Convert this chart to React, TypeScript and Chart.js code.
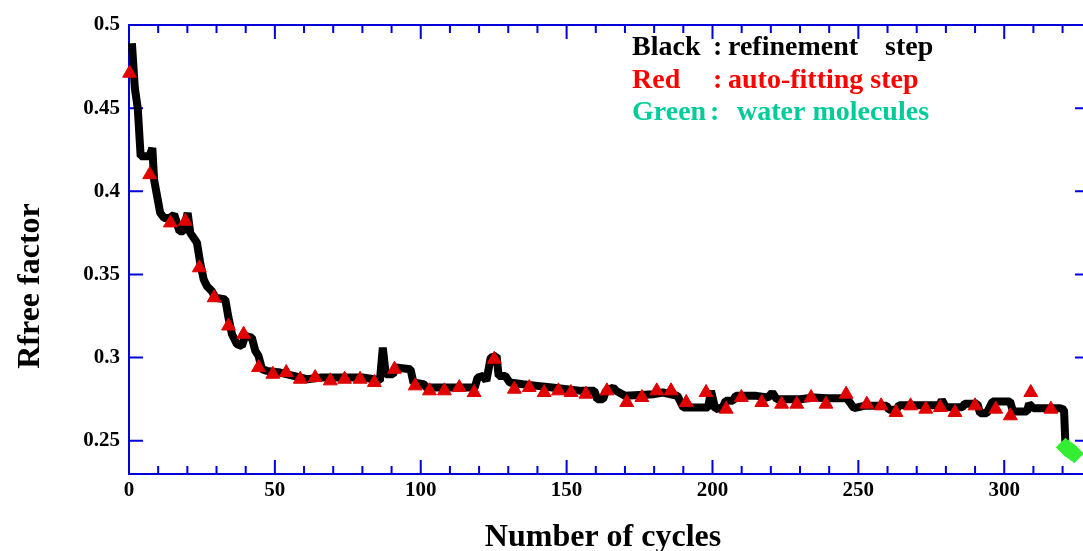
import React, { useEffect, useRef } from 'react';
import { Chart, registerables } from 'chart.js';

Chart.register(...registerables);

// Black: refinement step (Rfree after each cycle)
const refineCycles = [
  1, 2, 3, 4, 7, 8, 8.6, 10.7, 12, 14, 15.5, 17.3, 18.7, 20.1, 21, 23.3, 24.4, 25.6, 26.7, 28.4,
  29.6, 33, 34.1, 35.3, 37, 38.7, 39.8, 42.1, 43.3, 44.4, 45.6, 47.3, 51.8, 56.4, 61, 66, 75, 80,
  84, 86, 87, 88, 90.5, 91.5, 96.5, 97.5, 101, 102, 118.5, 119.5, 121.5, 122.5, 124, 126, 126.7,
  129, 130.5, 135, 140, 145, 150, 155, 159.5, 160.5, 162.5, 163.5, 166, 167, 170, 180, 183, 188,
  190, 198.5, 199.5, 201, 203.5, 204.5, 207, 208, 215, 219, 220.5, 222, 230, 235, 239, 246, 248.5,
  252, 259.7, 260.5, 263, 264, 278, 278.6, 280, 285.6, 286.5, 290.8, 291.7, 294, 296, 302, 303,
  307.8, 308.5, 310, 319.1, 320.5, 321,
];
const refineRfree = [
  0.489, 0.462, 0.45, 0.421, 0.421, 0.426, 0.407, 0.387, 0.384, 0.384, 0.386, 0.376, 0.376, 0.387,
  0.375, 0.369, 0.357, 0.347, 0.343, 0.34, 0.336, 0.335, 0.324, 0.314, 0.308, 0.307, 0.313, 0.312,
  0.304, 0.301, 0.293, 0.292, 0.291, 0.289, 0.287, 0.288, 0.288, 0.288, 0.287, 0.286, 0.306, 0.29,
  0.29, 0.294, 0.293, 0.285, 0.284, 0.282, 0.282, 0.288, 0.289, 0.286, 0.3, 0.301, 0.289, 0.289,
  0.285, 0.284, 0.283, 0.282, 0.281, 0.28, 0.28, 0.275, 0.275, 0.28, 0.282, 0.28, 0.277, 0.278,
  0.279, 0.277, 0.27, 0.27, 0.28, 0.269, 0.27, 0.274, 0.274, 0.277, 0.277, 0.276, 0.279, 0.275,
  0.275, 0.276, 0.2756, 0.2756, 0.2696, 0.271, 0.271, 0.2686, 0.2686, 0.2714, 0.2714, 0.2746,
  0.2702, 0.2702, 0.2722, 0.2722, 0.2666, 0.2666, 0.2736, 0.2736, 0.2676, 0.2676, 0.2722, 0.2696,
  0.2696, 0.2686, 0.2466,
];

// Red: auto-fitting step
const autoFitCycles = [
  0.2, 7.1, 14.2, 19.3, 24.1, 29.2, 34.1, 39.3, 44.4, 49.3, 53.9, 58.7, 63.8, 69, 73.9, 79.2, 84.1,
  91, 98.1, 103, 108.1, 113.2, 118.3, 125.2, 132.1, 137.2, 142.3, 147.2, 151.5, 156.6, 163.8, 170.6,
  175.8, 180.9, 185.8, 191, 197.8, 204.7, 209.9, 216.9, 223.7, 228.9, 233.8, 238.9, 245.8, 252.9,
  257.8, 262.9, 267.9, 273.1, 278.1, 283.1, 290, 297.1, 302.1, 309.1, 316,
];
const autoFitRfree = [
  0.471, 0.41, 0.381, 0.382, 0.354, 0.336, 0.319, 0.314, 0.294, 0.29, 0.291, 0.287, 0.288, 0.286,
  0.287, 0.287, 0.285, 0.293, 0.283, 0.28, 0.28, 0.282, 0.279, 0.299, 0.281, 0.282, 0.279, 0.28,
  0.279, 0.278, 0.28, 0.273, 0.276, 0.28, 0.28, 0.273, 0.279, 0.269, 0.276, 0.273, 0.272, 0.272,
  0.276, 0.272, 0.278, 0.272, 0.271, 0.267, 0.271, 0.269, 0.27, 0.267, 0.271, 0.269, 0.265, 0.279,
  0.269,
];

// Green: water molecules
const waterCycles = [321, 322, 323, 324];
const waterRfree = [0.246, 0.2448, 0.2435, 0.2422];

const xTickValues = [0, 50, 100, 150, 200, 250, 300];
const xTickMarks = [10, 20, 30, 40, 50, 60, 70, 80, 90, 100, 110, 120, 130, 140, 150, 160, 170, 180,
  190, 200, 210, 220, 230, 240, 250, 260, 270, 280, 290, 300, 310, 320];
const yTickValues = [0.25, 0.3, 0.35, 0.4, 0.45, 0.5];
const yTickLabels = ['0.25', '0.3', '0.35', '0.4', '0.45', '0.5'];

const legendLabels = ['Black', 'Red', 'Green'];
const legendTexts = ['refinement', 'auto-fitting step', 'water molecules'];
const legendColors = ['#000000', '#ff0000', '#00cc99'];

const AXIS_BLUE = '#0000dd';
const FONT = '"Liberation Serif", "Times New Roman", serif';

export default function App() {
  const ref = useRef<HTMLCanvasElement>(null);

  useEffect(() => {
    document.body.style.margin = '0';
    document.body.style.overflow = 'hidden';
    const canvas = ref.current;
    if (!canvas) return;

    const framePlugin = {
      id: 'frame',
      beforeDatasetsDraw(chart: any) {
        const { ctx, chartArea: a, scales } = chart;
        const xs = scales.x;
        const ys = scales.y;
        ctx.save();
        ctx.strokeStyle = AXIS_BLUE;
        ctx.lineWidth = 2;
        ctx.beginPath();
        ctx.moveTo(a.left, a.top);
        ctx.lineTo(a.right + 4, a.top);
        ctx.moveTo(a.left, a.bottom);
        ctx.lineTo(a.right + 4, a.bottom);
        ctx.moveTo(a.left, a.top - 1);
        ctx.lineTo(a.left, a.bottom + 1);
        for (const v of xTickMarks) {
          const px = xs.getPixelForValue(v);
          const len = v % 50 === 0 ? 14 : 8;
          ctx.moveTo(px, a.bottom);
          ctx.lineTo(px, a.bottom - len);
          ctx.moveTo(px, a.top);
          ctx.lineTo(px, a.top + len);
        }
        for (const v of yTickValues) {
          const py = ys.getPixelForValue(v);
          ctx.moveTo(a.left, py);
          ctx.lineTo(a.left + 14, py);
          ctx.moveTo(a.right + 2, py);
          ctx.lineTo(a.right - 8, py);
        }
        ctx.stroke();
        ctx.restore();
      },
      afterDraw(chart: any) {
        const { ctx } = chart;
        ctx.save();
        ctx.fillStyle = '#000';
        ctx.font = `bold 32px ${FONT}`;
        ctx.textAlign = 'center';
        ctx.textBaseline = 'alphabetic';
        ctx.fillText('Number of cycles', 603, 546);
        ctx.translate(39, 286);
        ctx.rotate(-Math.PI / 2);
        ctx.fillText('Rfree factor', 0, 0);
        ctx.restore();

        ctx.save();
        ctx.font = `bold 28px ${FONT}`;
        ctx.textAlign = 'left';
        ctx.textBaseline = 'alphabetic';
        const baselines = [55, 88, 120];
        const textX = [728, 728, 737];
        legendLabels.forEach((lab, i) => {
          ctx.fillStyle = legendColors[i];
          ctx.fillText(lab, 632, baselines[i]);
          ctx.fillText(':', i === 2 ? 710 : 713, baselines[i]);
          ctx.fillText(legendTexts[i], textX[i], baselines[i]);
        });
        ctx.fillStyle = legendColors[0];
        ctx.fillText('step', 885, baselines[0]);
        ctx.restore();
      },
    };

    const chart = new Chart(canvas, {
      type: 'line',
      data: {
        datasets: [
          {
            label: 'auto-fitting step',
            data: autoFitCycles.map((c, i) => ({ x: c, y: autoFitRfree[i] })),
            showLine: false,
            pointStyle: 'triangle',
            pointRadius: 8,
            pointBackgroundColor: '#e00000',
            pointBorderColor: '#e00000',
            pointBorderWidth: 1,
            clip: false,
          },
          {
            label: 'water molecules',
            data: waterCycles.map((c, i) => ({ x: c, y: waterRfree[i] })),
            borderColor: '#33ee33',
            borderWidth: 8,
            borderJoinStyle: 'bevel',
            pointStyle: 'rectRot',
            pointRadius: 4,
            pointBackgroundColor: '#33ee33',
            pointBorderColor: '#33ee33',
            clip: false,
          },
          {
            label: 'refinement step',
            data: refineCycles.map((c, i) => ({ x: c, y: refineRfree[i] })),
            borderColor: '#000000',
            borderWidth: 8,
            borderJoinStyle: 'bevel',
            pointRadius: 0,
            tension: 0,
            clip: false,
          },
        ],
      },
      options: {
        animation: false,
        responsive: false,
        events: [],
        layout: { autoPadding: false, padding: { top: 25, right: 0, left: 0, bottom: 0 } },
        plugins: { legend: { display: false }, tooltip: { enabled: false } },
        scales: {
          x: {
            type: 'linear',
            min: 0,
            max: 327,
            grid: { display: false, drawTicks: false },
            border: { display: false },
            afterBuildTicks: (axis: any) => {
              axis.ticks = xTickValues.map((v) => ({ value: v }));
            },
            afterFit: (axis: any) => {
              axis.height = 77;
              axis.paddingLeft = 0;
              axis.paddingRight = 0;
            },
            ticks: {
              padding: 4,
              color: '#000',
              font: { family: FONT, size: 21, weight: 'bold' },
              maxRotation: 0,
              callback: (v: any) => String(v),
            },
          },
          y: {
            type: 'linear',
            min: 0.23,
            max: 0.5,
            grid: { display: false, drawTicks: false },
            border: { display: false },
            afterBuildTicks: (axis: any) => {
              axis.ticks = yTickValues.map((v) => ({ value: v }));
            },
            afterFit: (axis: any) => {
              axis.width = 129;
              axis.paddingTop = 0;
              axis.paddingBottom = 0;
            },
            ticks: {
              padding: 9,
              color: '#000',
              font: { family: FONT, size: 21, weight: 'bold' },
              callback: (v: any) => {
                const idx = yTickValues.findIndex((t) => Math.abs(t - v) < 1e-6);
                return idx >= 0 ? yTickLabels[idx] : '';
              },
            },
          },
        },
      },
      plugins: [framePlugin],
    });

    return () => chart.destroy();
  }, []);

  return (
    <div style={{ width: 1083, height: 551 }}>
      <canvas ref={ref} width={1083} height={551} style={{ display: 'block' }} />
    </div>
  );
}
